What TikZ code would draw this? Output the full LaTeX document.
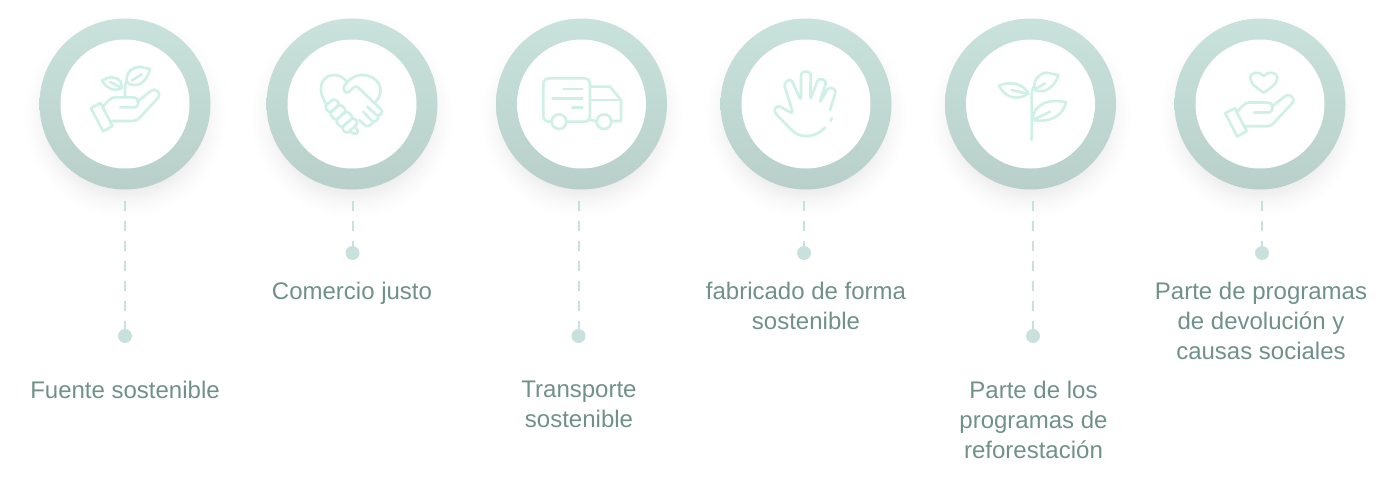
\documentclass[tikz,border=0pt]{standalone}
\usepackage{fontspec}
\setmainfont{Liberation Sans}
\definecolor{ringtop}{HTML}{C9E2DC}
\definecolor{ringmid}{HTML}{C7DFD9}
\definecolor{ringbottom}{HTML}{B8D0C9}
\definecolor{dotfill}{HTML}{C9E1DC}
\definecolor{iconline}{HTML}{CFF0E7}
\definecolor{textgray}{HTML}{6F918A}
\pgfdeclareradialshading{ringglow}{\pgfpoint{0bp}{0bp}}{color(0bp)=(black!7); color(18bp)=(black!7); color(21.5bp)=(black!2.5); color(25bp)=(white); color(50bp)=(white)}
\begin{document}
\begin{tikzpicture}[
		x = 1pt, y = -1pt,
		glow/.style = { circle, shading = ringglow, minimum size = 204pt, inner sep = 0pt },
		ring/.style = { circle, top color = ringtop, middle color = ringmid, bottom color = ringbottom, minimum size = 171pt, inner sep = 0pt, outer sep = 11pt },
		disc/.style = { circle, fill = white, minimum size = 129pt, inner sep = 0pt },
		dot/.style = { circle, fill = dotfill, minimum size = 14pt, inner sep = 0pt },
		link/.style = { draw = dotfill, line width = 2pt, dash pattern = on 10pt off 10pt },
		caption/.style = { anchor = north, align = center, inner sep = 0pt, text = textgray, font = \fontsize{24}{30}\selectfont },
		icon/.style = { draw = iconline, line width = 2.6pt, line cap = round, line join = round },
		zoomed/.style = { shift = {#1}, scale = 1/3 },
		handicon/.pic = {
			\draw [icon] (-34,4) -- (-24.5,-1) -- (-12.5,22) -- (-22,27.3) -- cycle;
			\draw [icon] (-22.3,2.7) .. controls (-17,-3) and (-14,-6.7) .. (-10,-6.7) -- (8.3,-6.7) .. controls (14,-6.7) and (16,0) .. (10,3.3) -- (-5,3.3);
			\draw [icon] (12.3,-2.3) -- (25.7,-13) .. controls (30,-17) and (37,-11) .. (33,-6) -- (15,13.3) .. controls (13,15.5) and (11,17) .. (8.3,17) -- (-15,17);
		}
	]
	\useasboundingbox (0,0) rectangle (1385,479);
	\node [glow] (glow1) at (125,116) {};
	\node [glow] (glow2) at (352,116) {};
	\node [glow] (glow3) at (581.5,116) {};
	\node [glow] (glow4) at (806,116) {};
	\node [glow] (glow5) at (1030.5,116) {};
	\node [glow] (glow6) at (1260,116) {};
	\node [ring] (ring1) at (125,104) {};
	\node [ring] (ring2) at (352,104) {};
	\node [ring] (ring3) at (581.5,104) {};
	\node [ring] (ring4) at (806,104) {};
	\node [ring] (ring5) at (1030.5,104) {};
	\node [ring] (ring6) at (1260,104) {};
	\node [disc] (disc1) at (ring1) {};
	\node [disc] (disc2) at (ring2) {};
	\node [disc] (disc3) at (ring3) {};
	\node [disc] (disc4) at (ring4) {};
	\node [disc] (disc5) at (ring5) {};
	\node [disc] (disc6) at (ring6) {};
	\node [dot] (dot1) at (125,336) {};
	\node [dot] (dot2) at (352.5,253) {};
	\node [dot] (dot3) at (578.5,336) {};
	\node [dot] (dot4) at (804,253) {};
	\node [dot] (dot5) at (1033,336) {};
	\node [dot] (dot6) at (1262,253) {};
	\draw [link] (dot1 |- ring1.south) -- (dot1);
	\draw [link] (dot2 |- ring2.south) -- (dot2);
	\draw [link] (dot3 |- ring3.south) -- (dot3);
	\draw [link] (dot4 |- ring4.south) -- (dot4);
	\draw [link] (dot5 |- ring5.south) -- (dot5);
	\draw [link] (dot6 |- ring6.south) -- (dot6);
	\node [caption] (caption1) at (125,381) {Fuente sostenible};
	\node [caption] (caption2) at (352,282) {Comercio justo};
	\node [caption] (caption3) at (579,381) {Transporte\\sostenible};
	\node [caption] (caption4) at (806,282) {fabricado de forma\\sostenible};
	\node [caption] (caption5) at (1033.5,381) {Parte de los\\programas de\\reforestación};
	\node [caption] (caption6) at (1261,282) {Parte de programas\\de devolución y\\causas sociales};
	\pic at (125,104) { handicon };
	\begin{scope}[shift = {(125,104)}]
		\draw [icon] (0,-6.7) -- (0,-19) -- (1.7,-22.3);
		\draw [icon] (1.7,-22.3) .. controls (1,-33) and (8,-37) .. (15,-37.3) -- (25,-35) .. controls (23,-27) and (18,-19) .. (10,-19) .. controls (6,-19) and (3,-20) .. cycle;
		\draw [icon] (6.7,-23.3) -- (16.7,-29.7);
		\draw [icon] (-23,-23.3) .. controls (-17,-27.5) and (-10,-28.5) .. (-4.3,-22.3) -- (-3.3,-16) .. controls (-10,-12) and (-18,-15) .. cycle;
		\draw [icon] (-15,-22) -- (-3.3,-16);
	\end{scope}
	\begin{scope}[zoomed = {(310,60)}]
		\draw [icon] (50,133) .. controls (20,95) and (30,45) .. (72,45) .. controls (90,45) and (100,55) .. (112,65) .. controls (125,55) and (135,45) .. (155,45) .. controls (205,45) and (230,90) .. (197,125);
		\draw [icon, rounded corners = 3pt] (112,65) -- (98,85) -- (110,102) -- (138,76) -- (220,155) -- (205,170) -- (172,140);
		\draw [icon, rounded corners = 3pt] (205,170) -- (208,175) -- (190,188) -- (160,155);
		\draw [icon, rounded corners = 3pt] (190,188) -- (172,202) -- (148,180);
		\draw [icon, rounded corners = 3pt] (43,140) -- (72,115) -- (90,132) -- (58,160) -- cycle;
		\draw [icon, rounded corners = 3pt] (58,160) -- (90,132) -- (110,152) -- (76,182) -- cycle;
		\draw [icon, rounded corners = 3pt] (76,182) -- (110,152) -- (130,172) -- (94,204) -- cycle;
		\draw [icon, rounded corners = 3pt] (94,204) -- (130,172) -- (145,188) -- (110,222) -- cycle;
		\draw [icon, rounded corners = 3pt] (120,212) -- (132,225) -- (148,215) -- (136,203);
	\end{scope}
	\begin{scope}[zoomed = {(535,65)}]
		\draw [icon, rounded corners = 5pt] (50,170) -- (25,170) -- (25,40) -- (165,40) -- (165,170) -- (95,170);
		\draw [icon] (85,72) -- (142,72);
		\draw [icon] (52,100) -- (142,100);
		\draw [icon] (112,128) -- (142,128);
		\draw [icon] (165,65) -- (225,65) -- (258,105) -- (258,168) -- (232,168);
		\draw [icon] (165,105) -- (258,105);
		\draw [icon] (165,165) -- (183,168);
		\draw [icon, fill = white] (72,170) circle (22);
		\draw [icon, fill = white] (207,170) circle (22);
	\end{scope}
	\begin{scope}[zoomed = {(765,60)}]
		\draw [icon, rounded corners = 3.5pt] (180,203) .. controls (150,235) and (105,235) .. (75,205) -- (26,155) -- (36,135) -- (85,162) -- (56,70) -- (78,56) -- (108,122) -- (108,35) -- (137,35) -- (136,120) -- (160,55) -- (185,62) -- (163,130) -- (192,80) -- (214,90) -- (195,150);
		\draw [icon] (200,175) -- (197,183);
	\end{scope}
	\begin{scope}[zoomed = {(990,60)}]
		\draw [icon] (125,240) -- (125,100) .. controls (125,90) and (130,80) .. (135,75);
		\draw [icon] (135,90) .. controls (125,60) and (150,40) .. (170,38) -- (205,45) .. controls (198,75) and (165,105) .. cycle;
		\draw [icon] (135,88) -- (165,70);
		\draw [icon] (27,77) .. controls (55,65) and (95,65) .. (115,100) .. controls (90,120) and (50,120) .. cycle;
		\draw [icon] (65,90) -- (115,102);
		\draw [icon] (128,180) .. controls (130,130) and (180,115) .. (228,127) .. controls (220,160) and (190,190) .. cycle;
		\draw [icon] (128,180) -- (180,155);
	\end{scope}
	\pic at (1259.2,109.2) { handicon };
	\begin{scope}[zoomed = {(1218,60)}]
		\draw [icon] (137,48) .. controls (125,32) and (97,35) .. (97,55) .. controls (97,72) and (122,88) .. (137,98) .. controls (152,88) and (178,72) .. (178,55) .. controls (178,35) and (150,32) .. cycle;
	\end{scope}
\end{tikzpicture}
\end{document}
